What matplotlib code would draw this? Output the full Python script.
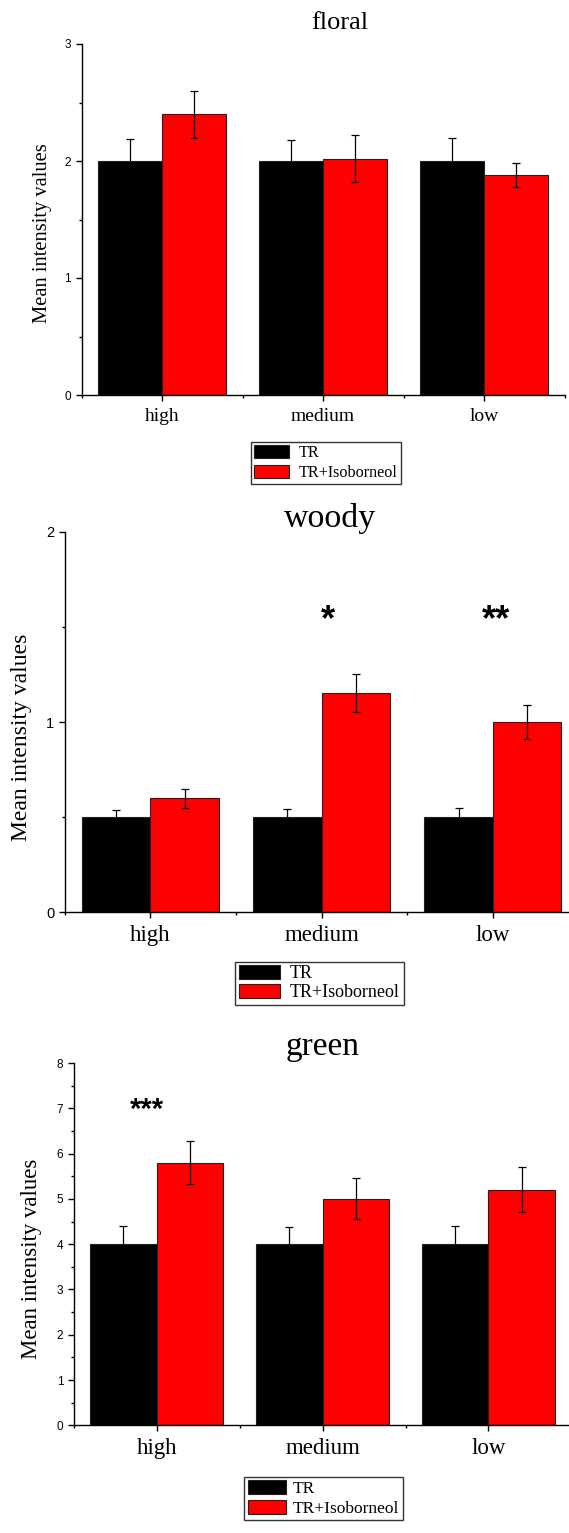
import matplotlib
matplotlib.use("Agg")
import matplotlib.pyplot as plt
from matplotlib.patches import Patch
import numpy as np

# data
categories = ["high", "medium", "low"]
series_names = ["TR", "TR+Isoborneol"]

floral_tr = [2.0, 2.0, 2.0]
floral_tr_err = [0.19, 0.18, 0.20]
floral_iso = [2.40, 2.02, 1.88]
floral_iso_err = [0.20, 0.20, 0.10]

woody_tr = [0.50, 0.50, 0.50]
woody_tr_err = [0.04, 0.045, 0.05]
woody_iso = [0.60, 1.15, 1.00]
woody_iso_err = [0.05, 0.10, 0.09]

green_tr = [4.0, 4.0, 4.0]
green_tr_err = [0.40, 0.38, 0.40]
green_iso = [5.80, 5.00, 5.20]
green_iso_err = [0.48, 0.45, 0.50]

# significance marks: (category index, offset, height, text)
woody_marks = [(1, 0.04, 1.59, "*"), (2, 0.02, 1.59, "**")]
green_marks = [(0, -0.06, 7.16, "***")]

W, H = 569, 1533
SERIF = "Liberation Serif"
SANS = "Liberation Sans"


def px_rect(left, right, top, bottom):
    return [left / W, 1 - bottom / H, (right - left) / W, (bottom - top) / H]


def draw_panel(fig, rect, tr, tr_err, iso, iso_err, ymax, ystep, tick_fs, cat_fs):
    ax = fig.add_axes(rect)
    x = np.arange(len(categories)) + 0.5
    w = 0.4
    ax.bar(x - w / 2, tr, w, color="black", edgecolor="#222222", linewidth=0.8, zorder=2)
    ax.bar(x + w / 2, iso, w, color="#ff0000", edgecolor="#222222", linewidth=0.8, zorder=2)
    ax.errorbar(x - w / 2, tr, yerr=tr_err, fmt="none", ecolor="black",
                elinewidth=0.9, capsize=3.2, capthick=0.9, zorder=3)
    ax.errorbar(x + w / 2, iso, yerr=iso_err, fmt="none", ecolor="black",
                elinewidth=0.9, capsize=3.2, capthick=0.9, zorder=3)

    ax.set_xlim(0, len(categories))
    ax.set_ylim(0, ymax)
    ax.set_xticks(x)
    ax.set_xticks(np.arange(len(categories) + 1), minor=True)
    ax.set_xticklabels(categories, fontfamily=SERIF, fontsize=cat_fs)
    ax.set_yticks(np.arange(0, ymax + 0.01, ystep))
    ax.set_yticks(np.arange(0, ymax + 0.01, ystep / 2), minor=True)
    ax.set_yticklabels([f"{v:g}" for v in np.arange(0, ymax + 0.01, ystep)],
                       fontfamily=SANS, fontsize=tick_fs)

    for s in ["top", "right"]:
        ax.spines[s].set_visible(False)
    for s in ["left", "bottom"]:
        ax.spines[s].set_linewidth(1.0)
    ax.tick_params(axis="y", which="major", direction="out", length=4.5, width=1.0, pad=3)
    ax.tick_params(axis="y", which="minor", direction="out", length=2.5, width=1.0)
    ax.tick_params(axis="x", which="major", direction="out", length=4, width=1.0, pad=5.5)
    ax.tick_params(axis="x", which="minor", direction="out", length=2.5, width=1.0)
    return ax


def add_legend(fig, ax, left, top, fs, hl, hh, spacing, textpad):
    handles = [Patch(facecolor="black", edgecolor="#222222", linewidth=0.8),
               Patch(facecolor="#ff0000", edgecolor="#222222", linewidth=0.8)]
    leg = ax.legend(handles, series_names, loc="upper left",
                    bbox_to_anchor=(left / W, 1 - top / H), bbox_transform=fig.transFigure,
                    prop={"family": SERIF, "size": fs}, frameon=True, fancybox=False,
                    edgecolor="black", borderaxespad=0, borderpad=0.2,
                    handlelength=hl, handleheight=hh, labelspacing=spacing,
                    handletextpad=textpad)
    leg.get_frame().set_linewidth(1.0)
    return leg


def add_marks(ax, marks, fs):
    # asterisk glyph sits ~0.57 em above the baseline, so shift the baseline down
    for idx, off, y, txt in marks:
        ax.annotate(txt, xy=(idx + 0.5 + off, y), xytext=(0, -0.57 * fs),
                    textcoords="offset points", ha="center", va="baseline",
                    fontfamily=SANS, fontweight="bold", fontsize=fs, zorder=4)


def main():
    fig = plt.figure(figsize=(W / 100, H / 100), dpi=100)

    # floral
    ax1 = draw_panel(fig, px_rect(81.5, 564.5, 44, 395), floral_tr, floral_tr_err,
                     floral_iso, floral_iso_err, 3, 1, 8.5, 14)
    fig.text(340 / W, 1 - 29 / H, "floral", ha="center", va="baseline",
             fontfamily=SERIF, fontsize=19)
    fig.text(42.6 / W, 1 - 233 / H, "Mean intensity values", rotation=90,
             ha="center", va="center", fontfamily=SERIF, fontsize=14.8)
    add_legend(fig, ax1, 250.5, 441.7, 11.6, 2.2, 0.85, 0.25, 0.6)

    # woody
    ax2 = draw_panel(fig, px_rect(64.6, 64.6 + 3 * 171.3, 531.7, 912.3), woody_tr, woody_tr_err,
                     woody_iso, woody_iso_err, 2, 1, 10.5, 16.5)
    fig.text(330 / W, 1 - 527 / H, "woody", ha="center", va="baseline",
             fontfamily=SERIF, fontsize=24.5)
    fig.text(21.8 / W, 1 - 737.5 / H, "Mean intensity values", rotation=90,
             ha="center", va="center", fontfamily=SERIF, fontsize=17)
    add_marks(ax2, woody_marks, 26)
    add_legend(fig, ax2, 235, 961.7, 13, 2.3, 0.8, 0.1, 0.55)

    # green
    ax3 = draw_panel(fig, px_rect(73.7, 73.7 + 3 * 165.9, 1063, 1425.3), green_tr, green_tr_err,
                     green_iso, green_iso_err, 8, 1, 8.5, 16.5)
    fig.text(323 / W, 1 - 1055 / H, "green", ha="center", va="baseline",
             fontfamily=SERIF, fontsize=24)
    fig.text(31.6 / W, 1 - 1259 / H, "Mean intensity values", rotation=90,
             ha="center", va="center", fontfamily=SERIF, fontsize=16.4)
    add_marks(ax3, green_marks, 21)
    add_legend(fig, ax3, 244.2, 1476.7, 12.5, 2.2, 0.85, 0.15, 0.4)

    fig.savefig("out.png", dpi=100)


if __name__ == "__main__":
    main()
